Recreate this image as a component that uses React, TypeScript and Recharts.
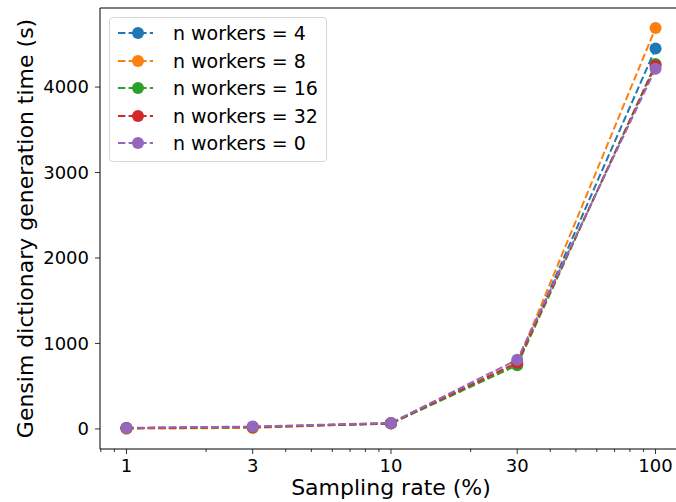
import { LineChart, Line, XAxis, YAxis, Legend, ReferenceLine } from 'recharts';

// sampling rates (%) and generation times (s) for each worker count
const rates = [1, 3, 10, 30, 100];
const workers4 = [10, 22, 65, 760, 4450];
const workers8 = [2, 12, 68, 770, 4690];
const workers16 = [8, 20, 62, 745, 4270];
const workers32 = [10, 22, 66, 775, 4250];
const workers0 = [12, 28, 70, 810, 4215];

const majorTicks = [1, 3, 10, 30, 100];
const minorTicks = [0.8, 0.9, 2, 4, 5, 6, 7, 8, 9, 20, 40, 50, 60, 70, 80, 90];
const yTicks = [0, 1000, 2000, 3000, 4000];

const X_DOMAIN = [Math.pow(10, -0.1), Math.pow(10, 2.1)];
const Y_DOMAIN = [-235, 4925];

const series = [
  { key: 'w4', name: 'n workers = 4', color: '#1f77b4', values: workers4 },
  { key: 'w8', name: 'n workers = 8', color: '#ff7f0e', values: workers8 },
  { key: 'w16', name: 'n workers = 16', color: '#2ca02c', values: workers16 },
  { key: 'w32', name: 'n workers = 32', color: '#d62728', values: workers32 },
  { key: 'w0', name: 'n workers = 0', color: '#9467bd', values: workers0 },
];

const data = rates.map((rate, i) => {
  const row: any = { rate };
  series.forEach((s) => {
    row[s.key] = s.values[i];
  });
  return row;
});

const FONT = '"DejaVu Sans", sans-serif';

// log axis tick: long line + label for majors, short line for minors
const LogTick = ({ x, y, payload }: any) => {
  const major = majorTicks.includes(payload.value);
  return (
    <g>
      <line x1={x} x2={x} y1={y} y2={y + (major ? 5 : 3)} stroke="#000" strokeWidth={0.8} />
      {major && (
        <text x={x} y={y + 23} textAnchor="middle" fontSize={18} fill="#000" fontFamily={FONT}>
          {payload.value}
        </text>
      )}
    </g>
  );
};

const YLabel = ({ viewBox }: any) => {
  const cy = viewBox.y + viewBox.height / 2;
  const x = 33;
  return (
    <text
      x={x}
      y={cy}
      transform={`rotate(-90, ${x}, ${cy})`}
      textAnchor="middle"
      fontSize={22}
      fill="#000"
      fontFamily={FONT}
    >
      Gensim dictionary generation time (s)
    </text>
  );
};

const XLabel = ({ viewBox }: any) => {
  const cx = viewBox.x + viewBox.width / 2;
  return (
    <text x={cx} y={495} textAnchor="middle" fontSize={22} fill="#000" fontFamily={FONT}>
      Sampling rate (%)
    </text>
  );
};

const LegendBox = () => (
  <div
    style={{
      position: 'relative',
      width: 218,
      height: 145,
      border: '1px solid #d6d6d6',
      borderRadius: 4,
      background: 'rgba(255,255,255,0.8)',
      boxSizing: 'border-box',
      fontFamily: FONT,
      fontSize: 19,
      color: '#000',
    }}
  >
    {series.map((s, i) => (
      <div
        key={s.key}
        style={{ position: 'absolute', left: 0, top: 15 + i * 27.6 - 12, height: 24, display: 'flex', alignItems: 'center' }}
      >
        <svg width={60} height={24} style={{ display: 'block' }}>
          <line x1={8} x2={43} y1={12} y2={12} stroke={s.color} strokeWidth={2} strokeDasharray="7.4 3.2" />
          <circle cx={28} cy={12} r={6} fill={s.color} />
        </svg>
        <span style={{ marginLeft: 3, whiteSpace: 'nowrap' }}>{s.name}</span>
      </div>
    ))}
  </div>
);

export default function App() {
  return (
    <div style={{ position: 'absolute', left: 0, top: 0, width: 676, height: 502, overflow: 'hidden', background: '#fff' }}>
      <LineChart width={682} height={502} data={data} margin={{ top: 8, right: 0, bottom: 0, left: 0 }}>
        <XAxis
          dataKey="rate"
          type="number"
          scale="log"
          domain={X_DOMAIN}
          allowDataOverflow
          ticks={[...minorTicks, ...majorTicks].sort((a, b) => a - b)}
          interval={0}
          tick={<LogTick />}
          tickLine={false}
          tickSize={0}
          tickMargin={0}
          height={53}
          axisLine={{ stroke: '#000', strokeWidth: 1 }}
          label={<XLabel />}
        />
        <YAxis
          type="number"
          domain={Y_DOMAIN}
          allowDataOverflow
          ticks={yTicks}
          width={100}
          tickSize={5}
          tickMargin={6}
          tick={{ fontSize: 18, fill: '#000', fontFamily: FONT }}
          tickLine={{ stroke: '#000', strokeWidth: 0.8 }}
          axisLine={{ stroke: '#000', strokeWidth: 1 }}
          label={<YLabel />}
        />
        <ReferenceLine y={Y_DOMAIN[1]} stroke="#000" strokeWidth={1} />
        <Legend
          layout="vertical"
          align="center"
          verticalAlign="middle"
          wrapperStyle={{ left: 109, top: 17, width: 'auto' }}
          content={<LegendBox />}
        />
        {series.map((s) => (
          <Line
            key={s.key}
            dataKey={s.key}
            name={s.name}
            stroke={s.color}
            strokeWidth={2}
            strokeDasharray="7.4 3.2"
            dot={{ r: 6, fill: s.color, stroke: s.color, strokeWidth: 0 }}
            activeDot={false}
            isAnimationActive={false}
          />
        ))}
      </LineChart>
    </div>
  );
}
